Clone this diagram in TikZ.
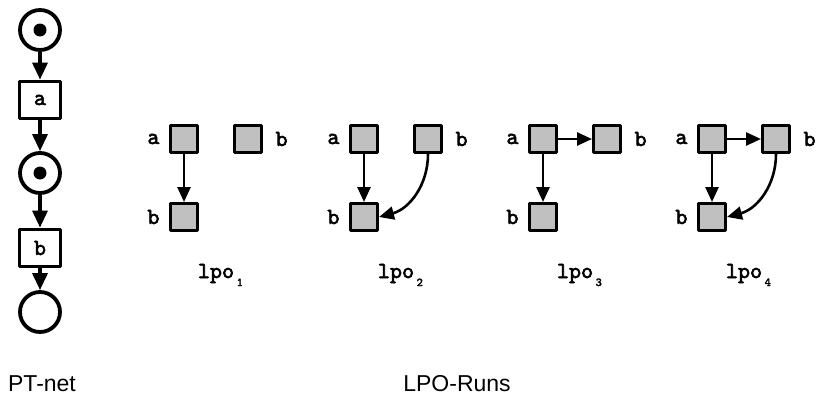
\documentclass[tikz,border=0pt]{standalone}
\usepackage{fontspec}
\setmainfont{Liberation Sans}
\setmonofont{lmmono10-regular.otf}[BoldFont=lmmono10-regular.otf, BoldFeatures={FakeBold=2.5}]
\usetikzlibrary{arrows.meta}

\definecolor{evgray}{RGB}{192,192,192}

\tikzset{
  place/.style={circle, draw, line width=3.8pt, minimum size=40pt, inner sep=0pt},
  token/.style={circle, fill, minimum size=13pt, inner sep=0pt},
  trans/.style={rectangle, draw, line width=3.8pt, minimum width=41pt, minimum height=37pt, inner sep=0pt,
                font=\ttfamily\bfseries\fontsize{23}{23}\selectfont},
  event/.style={rectangle, draw, fill=evgray, line width=3pt, minimum size=27pt, inner sep=0pt},
  lab/.style={font=\ttfamily\bfseries\fontsize{23}{23}\selectfont},
  flow/.style={line width=3.4pt, -{Triangle[length=17pt,width=15pt]}},
  order/.style={line width=2.6pt, -{Triangle[length=15pt,width=13pt]}},
}

\newcommand{\lposub}[1]{\rlap{\hspace{2.5pt}\raisebox{-8pt}{\fontsize{12}{12}\selectfont #1}}}

\begin{document}
\begin{tikzpicture}[x=1pt, y=-1pt, line join=round, font=\fontsize{23}{23}\selectfont]
  \useasboundingbox (0,0) rectangle (818,399);

  % PT-net
  \node[place] (p1) at (40,30) {};
  \node[token] at (p1) {};
  \node[trans] (ta) at (40,100) {a};
  \node[place] (p2) at (40,173) {};
  \node[token] at (p2) {};
  \node[trans] (tb) at (40,248) {b};
  \node[place] (p3) at (40,312) {};
  \draw[flow] (p1) -- (ta);
  \draw[flow] (ta) -- (p2);
  \draw[flow] (p2) -- (tb);
  \draw[flow] (tb) -- (p3);
  \node (net) at (42,384) {PT-net};

  % the four runs
  \foreach \x/\i in {184/1, 364/2, 543/3, 712/4} {
    \node[event, label={[lab, label distance=6pt]left:a}] (a\i) at (\x,139) {};
    \node[event, label={[lab, label distance=9pt]right:b}] (bt\i) at (\x+64,139) {};
    \node[event, label={[lab, label distance=6pt]left:b}] (bb\i) at (\x,217) {};
    \draw[order] (a\i) -- (bb\i);
    \node[lab, anchor=base] (lpo\i) at (\x+32,278) {lpo\lposub{\i}};
  }
  \draw[order] (bt2.south) to[out=-90, in=15] (bb2.east);
  \draw[order] (a3) -- (bt3);
  \draw[order] (a4) -- (bt4);
  \draw[order] (bt4.south) to[out=-90, in=15] (bb4.east);

  \node (runs) at (457,384) {LPO-Runs};
\end{tikzpicture}
\end{document}
